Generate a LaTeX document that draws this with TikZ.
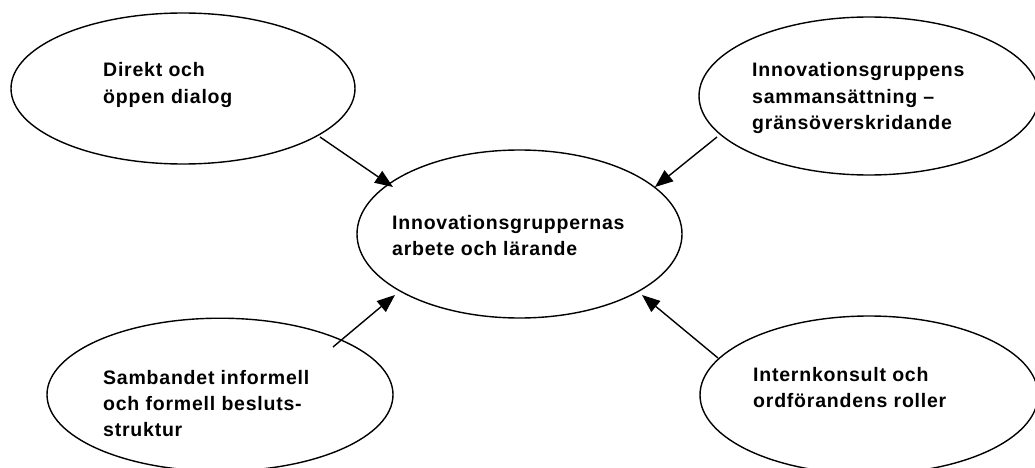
\documentclass[tikz,border=0pt]{standalone}
\usepackage{fontspec}
\setmainfont{Liberation Sans}
\newfontfamily\lblfont[LetterSpace=4]{Liberation Sans}
\usetikzlibrary{shapes.geometric,arrows.meta}
\begin{document}
\begin{tikzpicture}[x=1pt,y=-1pt,
  bubble/.style={ellipse, draw, line width=1.4pt, inner sep=0pt},
  lbl/.style={anchor=base west, align=left, inner sep=0pt,
    font=\lblfont\bfseries\fontsize{19.5}{26}\selectfont},
  conn/.style={line width=1.4pt, -{Triangle[length=18pt,width=14pt]}}]
\useasboundingbox (0,0) rectangle (1035,468);

\node[bubble, minimum width=344pt, minimum height=151pt] (tl) at (183,88.5) {};
\node[bubble, minimum width=340pt, minimum height=158pt] (tr) at (869,96) {};
\node[bubble, minimum width=325pt, minimum height=168pt] (c) at (519.5,234) {};
\node[bubble, minimum width=346pt, minimum height=153pt] (bl) at (220,394.7) {};
\node[bubble, minimum width=338pt, minimum height=158pt] (br) at (869,395) {};

% base anchor of a multi-line node lies on its last line
\node[lbl] (tltext) at (103,103) {Direkt och\\öppen dialog};
\node[lbl] (trtext) at (752,129) {Innovationsgruppens\\sammansättning –\\gränsöverskridande};
\node[lbl] (ctext) at (392,255) {Innovationsgruppernas\\arbete och lärande};
\node[lbl] (bltext) at (103,436) {Sambandet informell\\och formell besluts-\\struktur};
\node[lbl] (brtext) at (753,407) {Internkonsult och\\ordförandens roller};

\coordinate (tls) at (320,137);
\coordinate (tle) at (393,187);
\coordinate (trs) at (717,137);
\coordinate (tre) at (655,187);
\coordinate (bls) at (333,347);
\coordinate (ble) at (395,295);
\coordinate (brs) at (718,358);
\coordinate (bre) at (642,295);

\draw[conn] (tls) -- (tle);
\draw[conn] (trs) -- (tre);
\draw[conn] (bls) -- (ble);
\draw[conn] (brs) -- (bre);
\end{tikzpicture}
\end{document}
